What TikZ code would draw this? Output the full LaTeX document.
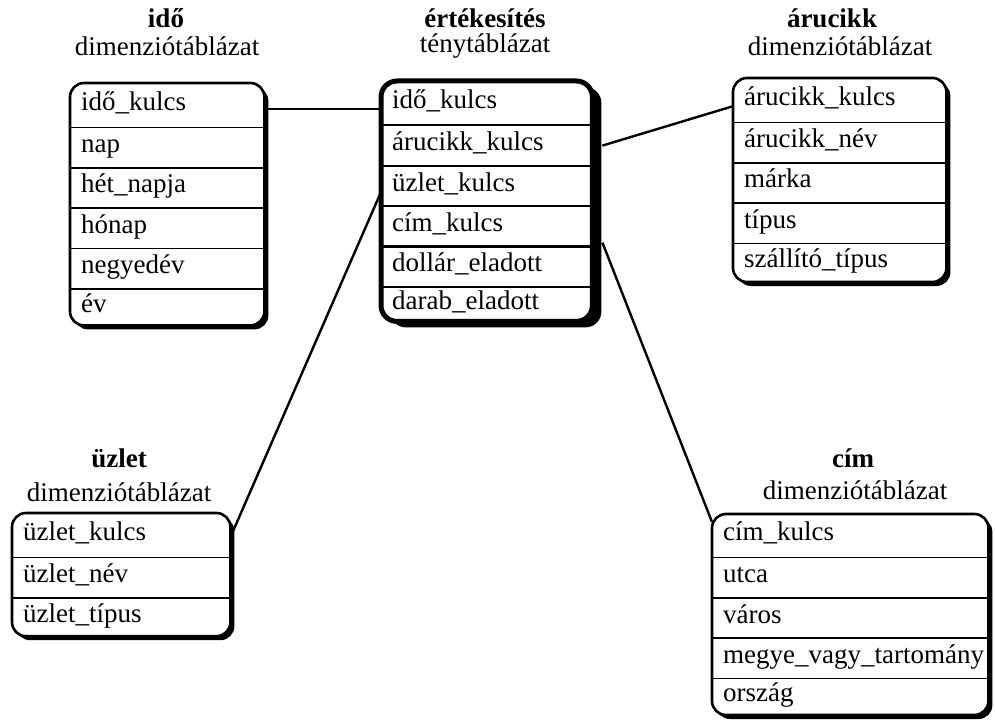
\documentclass[tikz,border=0pt]{standalone}
\usepackage{fontspec}
\setmainfont{Liberation Serif}
\pgfdeclarelayer{background}
\pgfsetlayers{background,main}
\tikzset{
  cell/.style={anchor=north west, inner xsep=11pt, inner ysep=0pt, align=left,
               text height=17pt, text depth=7pt,
               font=\fontsize{27}{30}\selectfont},
  ttl/.style={font=\fontsize{27}{30}\selectfont\bfseries, inner sep=0pt},
  sub/.style={font=\fontsize{27}{30}\selectfont, inner sep=0pt},
  dimframe/.style={draw, line width=2.6pt, rounded corners=14pt, fill=white},
  factframe/.style={draw, line width=5pt, rounded corners=16pt, fill=white},
  shade/.style={fill=black, rounded corners=14pt},
  sep/.style={line width=1.5pt},
  factsep/.style={line width=2pt},
  link/.style={line width=2.4pt},
}
\begin{document}
\begin{tikzpicture}[x=1pt,y=-1pt]
\useasboundingbox (0,0) rectangle (995,722);

% ---------- idő dimension table ----------
\node[ttl] (tIdo) at (166,18) {idő};
\node[sub] (sIdo) at (167,46) {dimenziótáblázat};
\node[cell, text width=172pt, minimum height=44pt] (t1) at (70,83) {idő\_kulcs};
\node[cell, text width=172pt, minimum height=40pt] (t2) at (t1.south west) {nap};
\node[cell, text width=172pt, minimum height=40pt] (t3) at (t2.south west) {hét\_napja};
\node[cell, text width=172pt, minimum height=40pt] (t4) at (t3.south west) {hónap};
\node[cell, text width=172pt, minimum height=40pt] (t5) at (t4.south west) {negyedév};
\node[cell, text width=172pt, minimum height=36pt] (t6) at (t5.south west) {év};
\foreach \r in {1,...,5} \draw[sep] (t\r.south west) -- (t\r.south east);
\begin{pgfonlayer}{background}
  \fill[shade] ([shift={(4,4)}]t1.north west) rectangle ([shift={(4,4)}]t6.south east);
  \draw[dimframe] (t1.north west) rectangle (t6.south east);
\end{pgfonlayer}

% ---------- értékesítés fact table ----------
\node[ttl] (tFact) at (485,18) {értékesítés};
\node[sub] (sFact) at (485,46) {ténytáblázat};
\node[cell, text width=189pt, minimum height=44pt] (f1) at (381,81) {idő\_kulcs};
\node[cell, text width=189pt, minimum height=40pt] (f2) at (f1.south west) {árucikk\_kulcs};
\node[cell, text width=189pt, minimum height=40pt] (f3) at (f2.south west) {üzlet\_kulcs};
\node[cell, text width=189pt, minimum height=40pt] (f4) at (f3.south west) {cím\_kulcs};
\node[cell, text width=189pt, minimum height=40pt] (f5) at (f4.south west) {dollár\_eladott};
\node[cell, text width=189pt, minimum height=34pt] (f6) at (f5.south west) {darab\_eladott};
\foreach \r in {1,2,3,5} \draw[factsep] (f\r.south west) -- (f\r.south east);
\draw[line width=3pt] (f4.south west) -- (f4.south east);
\begin{pgfonlayer}{background}
  \fill[shade, rounded corners=16pt] ([shift={(9,6)}]f1.north west) rectangle ([shift={(9,6)}]f6.south east);
  \draw[factframe] (f1.north west) rectangle (f6.south east);
\end{pgfonlayer}

% ---------- árucikk dimension table ----------
\node[ttl] (tAru) at (832,18) {árucikk};
\node[sub] (sAru) at (840,46) {dimenziótáblázat};
\node[cell, text width=191pt, minimum height=44pt] (a1) at (733,78) {árucikk\_kulcs};
\node[cell, text width=191pt, minimum height=40pt] (a2) at (a1.south west) {árucikk\_név};
\node[cell, text width=191pt, minimum height=40pt] (a3) at (a2.south west) {márka};
\node[cell, text width=191pt, minimum height=40pt] (a4) at (a3.south west) {típus};
\node[cell, text width=191pt, minimum height=38pt] (a5) at (a4.south west) {szállító\_típus};
\foreach \r in {1,...,4} \draw[sep] (a\r.south west) -- (a\r.south east);
\begin{pgfonlayer}{background}
  \fill[shade] ([shift={(4,4)}]a1.north west) rectangle ([shift={(4,4)}]a5.south east);
  \draw[dimframe] (a1.north west) rectangle (a5.south east);
\end{pgfonlayer}

% ---------- üzlet dimension table ----------
\node[ttl] (tUzl) at (119,458) {üzlet};
\node[sub] (sUzl) at (119,492) {dimenziótáblázat};
\node[cell, text width=196pt, minimum height=44pt] (u1) at (12,513) {üzlet\_kulcs};
\node[cell, text width=196pt, minimum height=40pt] (u2) at (u1.south west) {üzlet\_név};
\node[cell, text width=196pt, minimum height=38pt] (u3) at (u2.south west) {üzlet\_típus};
\foreach \r in {1,2} \draw[sep] (u\r.south west) -- (u\r.south east);
\begin{pgfonlayer}{background}
  \fill[shade] ([shift={(4,4)}]u1.north west) rectangle ([shift={(4,4)}]u3.south east);
  \draw[dimframe] (u1.north west) rectangle (u3.south east);
\end{pgfonlayer}

% ---------- cím dimension table ----------
\node[ttl] (tCim) at (853,458) {cím};
\node[sub] (sCim) at (855,490) {dimenziótáblázat};
\node[cell, text width=254pt, minimum height=43pt] (c1) at (712,514) {cím\_kulcs};
\node[cell, text width=254pt, minimum height=40pt] (c2) at (c1.south west) {utca};
\node[cell, text width=254pt, minimum height=40pt] (c3) at (c2.south west) {város};
\node[cell, text width=254pt, minimum height=40pt] (c4) at (c3.south west) {megye\_vagy\_tartomány};
\node[cell, text width=254pt, minimum height=36pt] (c5) at (c4.south west) {ország};
\foreach \r in {1,...,4} \draw[sep] (c\r.south west) -- (c\r.south east);
\begin{pgfonlayer}{background}
  \fill[shade] ([shift={(4,4)}]c1.north west) rectangle ([shift={(4,4)}]c5.south east);
  \draw[dimframe] (c1.north west) rectangle (c5.south east);
\end{pgfonlayer}

% ---------- key connectors ----------
\draw[link] ([yshift=-4pt]t1.east) -- ([yshift=-4pt]t1.east -| f1.west);
\draw[link] ([xshift=10pt]f2.east) -- ([yshift=-6pt]a1.west);
\draw[link] ([yshift=-6pt]f3.west) -- ([yshift=-2pt]u1.east);
\draw[link] ([xshift=10pt,yshift=4pt]f4.south east) -- ([yshift=-8pt]c1.north west);
\end{tikzpicture}
\end{document}
